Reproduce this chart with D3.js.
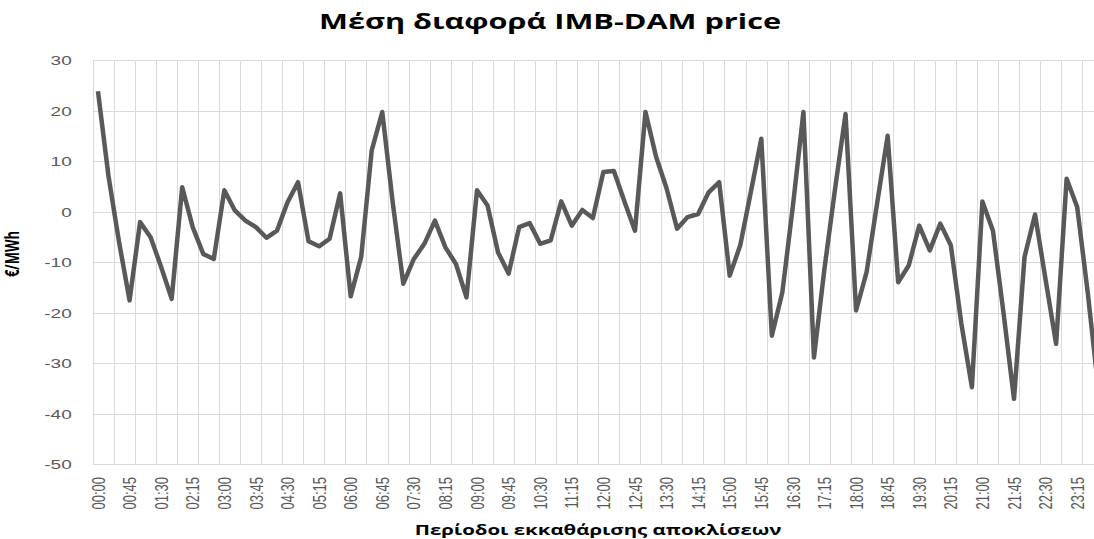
<!DOCTYPE html>
<html>
  <head>
    <meta charset="utf-8" />
    <title>Μέση διαφορά IMB-DAM price</title>
    <script src="https://d3js.org/d3.v7.min.js"></script>
    <style type="text/css">
      body { margin: 0; background: #fff; }
      svg { display: block; font-family: "Open Sans", sans-serif; }
      .grid line { stroke: #d9d9d9; stroke-width: 1; }
      .axis text { fill: #595959; font-size: 13px; }
      .axis path, .axis line { display: none; }
    </style>
  </head>
  <body>
    <div id="chart"></div>
    <script type="text/javascript">
      // quarter-hour settlement periods 00:00 .. 23:45
      var periods = d3.range(96).map(function(i) {
        return d3.format("02")(Math.floor(i / 4)) + ":" + d3.format("02")((i % 4) * 15);
      });

      // mean IMB-DAM price difference, €/MWh
      var diffs = [
        23.8, 7, -6, -17.6, -2.1, -5.1, -11, -17.3,
        4.8, -3.1, -8.4, -9.4, 4.2, 0.2, -1.8, -3.1,
        -5.2, -3.8, 1.8, 5.8, -5.9, -6.9, -5.4, 3.6,
        -16.8, -9, 12.1, 19.7, 1.7, -14.3, -9.4, -6.4,
        -1.8, -7.1, -10.4, -17, 4.2, 1.2, -8.1, -12.3,
        -3.1, -2.3, -6.4, -5.7, 2.0, -2.8, 0.3, -1.3,
        7.8, 8.0, 2.0, -3.8, 19.7, 10.9, 4.6, -3.4,
        -1.1, -0.5, 3.8, 5.8, -12.7, -6.7, 3.8, 14.4,
        -24.6, -16, 1.1, 19.7, -28.9, -11.3, 4.4, 19.3,
        -19.6, -12, 1.6, 15.0, -14, -10.7, -2.8, -7.7,
        -2.4, -6.7, -22.2, -34.8, 2.0, -3.8, -20, -37.1,
        -9, -0.6, -13.5, -26.2, 6.5, 0.9, -16, -35
      ];

      var yTicks = [30, 20, 10, 0, -10, -20, -30, -40, -50];
      var xLabels = periods.filter(function(d, i) { return i % 3 == 0; });
      var xGrid = periods.filter(function(d, i) { return i % 2 == 0; });

      var width = 1094, height = 539;
      // plot box (runs a little past the right edge, like the cropped original)
      var pL = 92.7, pR = 1103.5, pT = 60, pB = 464;
      var sx = 1.46; // the original's text is stretched sideways

      var svg = d3.select("#chart").append("svg")
          .attr("width", width)
          .attr("height", height);

      var x = d3.scaleBand().domain(periods).range([pL, pR]).padding(0);
      var y = d3.scaleLinear().domain([-50, 30]).range([pB, pT]);
      var half = x.bandwidth() / 2;

      // gridlines
      var grid = svg.append("g").attr("class", "grid");
      grid.selectAll("line.h")
          .data(yTicks)
          .enter().append("line")
          .attr("class", "h")
          .attr("x1", pL).attr("x2", pR)
          .attr("y1", function(d) { return Math.round(y(d)) + 0.5; })
          .attr("y2", function(d) { return Math.round(y(d)) + 0.5; });
      grid.selectAll("line.v")
          .data(xGrid)
          .enter().append("line")
          .attr("class", "v")
          .attr("y1", pT).attr("y2", pB)
          .attr("x1", function(d) { return Math.round(x(d)) + 0.5; })
          .attr("x2", function(d) { return Math.round(x(d)) + 0.5; });

      // axes
      svg.append("g")
          .attr("class", "axis")
          .attr("transform", "translate(" + pL + ",0)")
          .call(d3.axisLeft(y).tickValues(yTicks).tickSize(0).tickFormat(String))
          .selectAll("text")
          .attr("x", 0)
          .attr("dy", "0.35em")
          .attr("transform", "translate(-21,0) scale(" + sx + ",1)");

      svg.append("g")
          .attr("class", "axis")
          .attr("transform", "translate(0," + pB + ")")
          .call(d3.axisBottom(x).tickValues(xLabels).tickSize(0))
          .selectAll("text")
          .attr("text-anchor", "end")
          .attr("x", 0)
          .attr("y", 0)
          .attr("dy", "0.35em")
          .attr("transform", "translate(0,13) scale(" + sx + ",1) rotate(-90)");

      // series
      var line = d3.line()
          .x(function(d, i) { return x(periods[i]) + half; })
          .y(function(d) { return y(d); });

      svg.append("path")
          .datum(diffs)
          .attr("d", line)
          .style("fill", "none")
          .style("stroke", "#595959")
          .style("stroke-width", 4.5)
          .style("stroke-linejoin", "round");

      // titles
      svg.append("text")
          .attr("transform", "translate(550,29) scale(" + sx + ",1)")
          .attr("text-anchor", "middle")
          .style("font-size", "21px").style("font-weight", "bold").style("fill", "#000")
          .text("Μέση διαφορά IMB-DAM price");

      svg.append("text")
          .attr("transform", "translate(" + ((pL + pR) / 2) + ",535) scale(" + sx + ",1)")
          .attr("text-anchor", "middle")
          .style("font-size", "14px").style("font-weight", "bold").style("fill", "#000")
          .text("Περίοδοι εκκαθάρισης αποκλίσεων");

      svg.append("text")
          .attr("transform", "translate(19,254) scale(" + sx + ",1) rotate(-90)")
          .attr("text-anchor", "middle")
          .style("font-size", "13px").style("font-weight", "bold").style("fill", "#000")
          .text("€/MWh");
    </script>
  </body>
</html>
